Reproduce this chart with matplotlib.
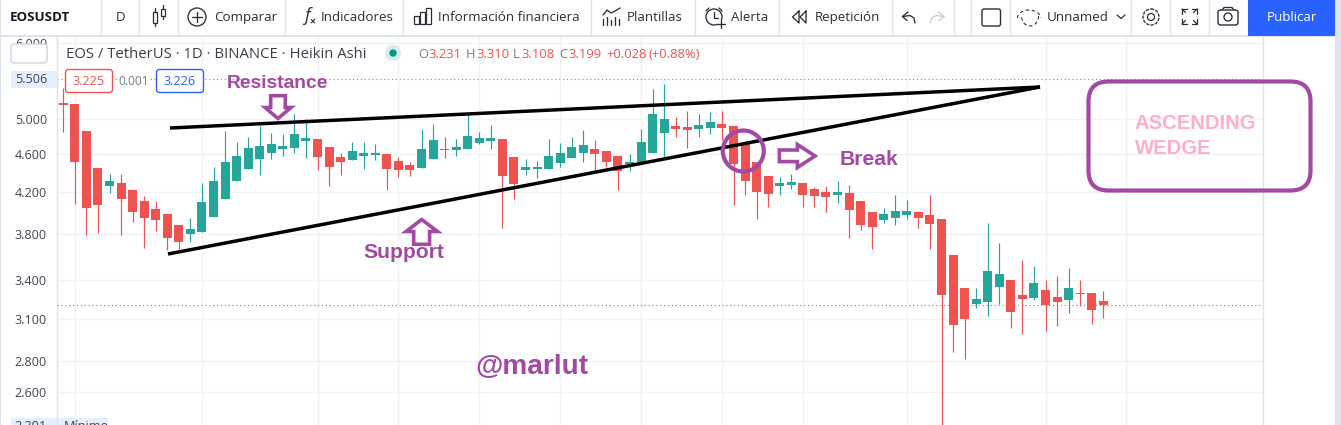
import matplotlib
matplotlib.use('Agg')
import matplotlib.pyplot as plt
from matplotlib.patches import Rectangle, Circle, Polygon, FancyBboxPatch, Arc
from matplotlib.ticker import NullLocator, FixedLocator, FixedFormatter

plt.rcParams['font.family'] = ['Open Sans', 'DejaVu Sans']

# daily Heikin Ashi candles
opens = [5.195,5.183,4.858,4.446,4.259,4.289,4.218,4.108,4.030,3.982,3.879,3.796,3.814,3.954,4.128,4.310,4.436,4.543,4.609,4.653,4.664,4.743,4.766,4.676,4.565,4.532,
         4.576,4.587,4.598,4.521,4.478,4.446,4.543,4.653,4.642,4.653,4.721,4.743,4.766,4.565,4.425,4.436,4.436,4.500,4.554,4.609,4.653,4.631,4.576,4.489,4.511,4.609,
         4.835,4.917,4.905,4.882,4.893,4.940,4.917,4.721,4.511,4.362,4.259,4.269,4.289,4.228,4.198,4.168,4.188,4.108,4.002,3.926,3.944,3.973,4.002,3.973,3.935,3.610,
         3.336,3.210,3.226,3.344,3.400,3.280,3.257,3.320,3.264,3.241,3.296,3.296,3.231]
highs = [5.385,5.183,4.858,4.446,4.383,4.383,4.218,4.158,4.108,3.982,3.879,3.944,4.289,4.457,4.858,4.732,4.789,4.917,4.835,4.824,5.060,5.000,4.766,4.676,4.609,4.732,
         4.732,4.709,4.598,4.565,4.511,4.882,4.940,4.789,4.766,5.060,4.847,4.929,4.766,4.565,4.543,4.521,4.766,4.721,4.789,4.870,4.755,4.631,4.576,4.598,4.882,5.373,
         5.437,5.024,5.097,5.060,5.085,5.097,4.917,4.721,4.511,4.362,4.351,4.383,4.289,4.248,4.259,4.310,4.269,4.108,4.002,4.040,4.168,4.118,4.011,4.168,3.935,3.610,
         3.336,3.336,3.898,3.715,3.400,3.567,3.516,3.400,3.433,3.499,3.400,3.296,3.310]
lows = [4.847,4.079,3.787,3.805,4.188,3.787,3.907,3.671,3.824,3.653,3.645,3.724,3.814,3.954,4.128,4.310,4.436,4.372,4.543,4.576,4.609,4.554,4.425,4.259,4.372,4.532,
        4.436,4.532,4.218,4.351,4.362,4.446,4.543,4.554,4.576,4.653,4.709,4.653,3.851,4.128,4.372,4.341,4.436,4.457,4.554,4.511,4.425,4.457,4.218,4.414,4.511,4.609,
        4.554,4.789,4.664,4.789,4.824,4.755,4.069,4.168,3.935,4.050,4.168,4.228,4.050,4.050,4.002,4.089,3.760,3.833,3.662,3.898,3.879,3.935,3.851,3.662,2.391,2.862,
        2.814,3.180,3.119,3.210,3.031,2.988,3.241,3.009,3.045,3.142,3.195,3.060,3.108]
closes = [5.171,4.511,4.040,4.069,4.310,4.128,4.002,3.944,3.926,3.760,3.724,3.842,4.099,4.310,4.511,4.576,4.664,4.687,4.709,4.687,4.824,4.778,4.565,4.457,4.511,4.631,
          4.609,4.609,4.436,4.425,4.425,4.653,4.755,4.642,4.676,4.800,4.778,4.778,4.362,4.279,4.457,4.457,4.576,4.609,4.676,4.698,4.598,4.511,4.414,4.511,4.732,5.060,
          5.000,4.882,4.870,4.929,4.964,4.893,4.489,4.310,4.198,4.178,4.289,4.300,4.168,4.158,4.148,4.198,4.021,3.879,3.860,3.982,4.011,4.011,3.944,3.888,3.280,3.053,
          3.097,3.249,3.474,3.449,3.149,3.249,3.376,3.202,3.226,3.336,3.288,3.164,3.199]

price_ticks = [6.0, 5.0, 4.6, 4.2, 3.8, 3.4, 3.1, 2.8, 2.6]
price_labels = ['6.000', '5.000', '4.600', '4.200', '3.800', '3.400', '3.100', '2.800', '2.600']
grid_days = [1, 12, 22, 29, 36, 43, 50, 57, 64, 73, 85, 92]
high_mark = 5.506

GREEN = '#26a69a'
RED = '#ef5350'
PURPLE = '#a349a4'
PINK = '#ffaec9'
LINE = '#e0e3eb'
INK = '#2a2e39'
GREY = '#787b86'

fig = plt.figure(figsize=(13.41, 4.25), dpi=100)
ax = fig.add_axes([57/1341, 0, 1206/1341, 389/425])

days = list(range(len(opens)))
colors = [GREEN if c >= o else RED for o, c in zip(opens, closes)]
ax.set_yscale('log')
ax.vlines(days, lows, highs, colors=colors, linewidth=0.85, zorder=3)
ax.bar(days, [abs(c - o) for o, c in zip(opens, closes)],
       bottom=[min(o, c) for o, c in zip(opens, closes)],
       width=0.78, color=colors, linewidth=0, zorder=4)

ax.axhline(high_mark, color='#8a8d96', lw=0.8, ls=(0, (1, 2.5)), zorder=2)
ax.axhline(closes[-1], color=RED, lw=0.8, ls=(0, (1, 2.5)), zorder=5)

ax.set_xlim(-0.545, 103.82)
ax.set_ylim(2.4025, 6.1)
ax.yaxis.set_major_locator(FixedLocator(price_ticks))
ax.yaxis.set_major_formatter(FixedFormatter(price_labels))
ax.yaxis.set_minor_locator(NullLocator())
ax.xaxis.set_major_locator(FixedLocator(grid_days))
ax.tick_params(axis='x', length=0, labelbottom=False)
ax.tick_params(axis='y', length=0, pad=7.2, labelsize=9.1, labelcolor='#434651')
ax.grid(True, color='#f1f2f5', lw=1.0, zorder=0)
ax.set_axisbelow(True)
for side in ('top', 'bottom'):
    ax.spines[side].set_visible(False)
for side in ('left', 'right'):
    ax.spines[side].set_color(LINE)
    ax.spines[side].set_linewidth(1.0)

# everything else sits on a full-figure layer measured in pixels, y downwards
ui = fig.add_axes([0, 0, 1, 1])
ui.set_xlim(0, 1341)
ui.set_ylim(425, 0)
ui.axis('off')


def label(x, y, s, size=9.6, color=INK, ha='left', **kw):
    ui.text(x, y, s, fontsize=size, color=color, ha=ha, va='center', **kw)


def stroke(xs, ys, color=INK, lw=0.95, **kw):
    ui.plot(xs, ys, color=color, lw=lw, solid_capstyle='round', **kw)


def outline(x, y, w, h, color=INK, lw=0.95, r=2, face='none', z=6):
    ui.add_patch(FancyBboxPatch((x + r, y + r), w - 2*r, h - 2*r, boxstyle=f'round,pad={r},rounding_size={r}',
                                fc=face, ec=color, lw=lw, zorder=z))


# toolbar
ui.add_patch(Rectangle((0, 0), 1341, 36, fc='white', ec='none'))
ui.add_patch(Rectangle((0, 35.2), 1335, 1.6, fc=LINE, ec='none'))
for sx in [101, 139, 178, 285, 403, 591, 695, 779, 892, 954, 971, 1010, 1131, 1170, 1209]:
    ui.plot([sx, sx], [0, 36], color=LINE, lw=1.0)
ui.add_patch(Rectangle((1335, 0), 6, 425, fc=LINE, ec='none'))
ui.add_patch(Rectangle((0, 0), 1, 425, fc=LINE, ec='none'))
ui.add_patch(Rectangle((1248, 0), 87, 36, fc='#2962ff', ec='none'))

label(10, 17, 'EOSUSDT', weight='bold', size=9.6, color='#131722')
label(120.5, 17, 'D', ha='center')
label(214, 17, 'Comparar')
label(321, 17, 'Indicadores')
label(438, 17, 'Información financiera')
label(627, 17, 'Plantillas')
label(731, 17, 'Alerta')
label(815, 17, 'Repetición')
label(1047, 17, 'Unnamed')
label(1291.5, 17, 'Publicar', color='white', ha='center')

# candle type icon
ui.add_patch(Rectangle((153.5, 12), 4, 11, fc='none', ec=INK, lw=0.9))
stroke([155.5, 155.5], [8, 12]); stroke([155.5, 155.5], [23, 26])
ui.add_patch(Rectangle((161.5, 9), 4, 7, fc='none', ec=INK, lw=0.9))
stroke([163.5, 163.5], [5, 9]); stroke([163.5, 163.5], [16, 19])
# compare
ui.add_patch(Circle((197, 17), 9, fc='none', ec=INK, lw=0.95))
stroke([197, 197], [12, 22]); stroke([192, 202], [17, 17])
# indicators
label(304, 16, 'f', size=13, style='italic')
label(309, 21.5, '×', size=7.5, weight='bold')
# financials
for bx, bh in zip([414.5, 420.5, 426.5], [8, 12, 16]):
    ui.add_patch(Rectangle((bx, 24 - bh), 5, bh, fc='none', ec=INK, lw=0.9))
# templates
for bx, bh in zip([603.5, 607.5, 611.5, 615.5, 619.5], [6, 8, 5, 8, 6]):
    stroke([bx, bx], [24.5 - bh, 24.5])
stroke([603, 607, 611, 615, 620], [15, 10, 13, 11, 8])
# alert
ui.add_patch(Circle((714, 17), 8, fc='none', ec=INK, lw=0.95))
stroke([714, 714, 718], [12, 18, 18])
stroke([706, 709], [11, 8]); stroke([719, 722], [8, 11])
ui.add_patch(Rectangle((717, 20), 9, 9, fc='white', ec='none', zorder=3))
stroke([721, 721], [20, 28], zorder=4); stroke([717, 725], [24, 24], zorder=4)
# replay
stroke([799, 792.5, 799, 799], [11, 17, 23, 11]); stroke([806, 800, 806, 806], [11, 17, 23, 11])
# undo / redo
stroke([908, 902.5, 907], [12, 16.5, 20.5]); stroke([902.5, 910, 914, 915], [16.5, 15.5, 18, 23])
stroke([938, 944, 939], [12, 16.5, 20.5], color='#c8cad0'); stroke([944, 936, 932, 930], [16.5, 15.5, 18, 23], color='#c8cad0')
# drawings square, cloud layout name
outline(982, 9, 18.5, 17, lw=1.0, r=2)
ui.add_patch(Arc((1029, 18), 23, 16, theta1=180, theta2=360, ec=INK, lw=0.8, ls=(0, (3, 2.5))))
ui.add_patch(Arc((1030, 16), 17, 20, theta1=0, theta2=180, ec=INK, lw=0.8, ls=(0, (3, 2.5))))
stroke([1117, 1121, 1125], [15, 18.5, 15], lw=0.9)
# settings
ui.add_patch(Circle((1151, 17), 3.5, fc='none', ec=INK, lw=0.9))
ui.add_patch(Circle((1151, 17), 8, fc='none', ec=INK, lw=0.95, ls=(0, (2.5, 0.9))))
# fullscreen
for cx, cy, dx, dy in [(1182, 9, 1, 1), (1197, 9, -1, 1), (1182, 24, 1, -1), (1197, 24, -1, -1)]:
    stroke([cx + 5*dx, cx, cx], [cy, cy, cy + 5*dy], lw=0.9)
    stroke([cx, cx + 3.5*dx], [cy, cy + 3.5*dy], lw=0.9)
# snapshot
outline(1218, 10, 20, 15, lw=1.0, r=2.5, face='white')
ui.add_patch(Circle((1228, 17), 4, fc='none', ec=INK, lw=0.95, zorder=7))
stroke([1222, 1224, 1232, 1234], [10, 7.5, 7.5, 10], lw=0.95)

# series legend
label(66, 54, 'EOS / TetherUS · 1D · BINANCE · Heikin Ashi', size=10.7, color='#3b3e48')
ui.add_patch(Circle((393, 53), 8, fc='#d4ecea', ec='none'))
ui.add_patch(Circle((393, 53), 3.7, fc='#089981', ec='none'))
for lx, letter, vx, val in [(418, 'O', 428, '3.231'), (466, 'H', 476, '3.310'), (513, 'L', 521, '3.108'), (559, 'C', 568, '3.199')]:
    label(lx, 54.5, letter, size=9.4, color=GREY)
    label(vx, 54.5, val, size=9.4, color=RED)
label(606, 54.5, '+0.028', size=9.4, color=RED)
label(649, 54.5, '(+0.88%)', size=9.4, color=RED)

# bid / ask chips
outline(65.5, 69.5, 47, 23, color=RED, lw=1.0, r=3, face='white')
label(89, 81.5, '3.225', color=RED, ha='center', size=9.1, zorder=7)
ui.add_patch(Rectangle((120, 74), 28, 14, fc='white', ec='none', zorder=6))
label(134, 81.5, '0.001', color=GREY, ha='center', size=8.6, zorder=7)
outline(156.5, 69.5, 47, 23, color='#2962ff', lw=1.0, r=3, face='white')
label(180, 81.5, '3.226', color='#2962ff', ha='center', size=9.1, zorder=7)

# price scale extras
outline(11, 44, 36, 19, color='#d1d4dc', lw=1.0, r=3, face='white')
label(29, 53, 'USDT', ha='center', size=8.4)
ui.add_patch(Rectangle((11, 71), 46, 17, fc='#e3effd', ec='none'))
label(47, 79.5, '5.506', ha='right', size=9.1, color='#434651')
ui.add_patch(Rectangle((11, 418), 46, 8, fc='#e3effd', ec='none'))
ui.add_patch(Rectangle((58, 418), 50, 8, fc='#e3effd', ec='none'))
label(47, 426.5, '2.391', ha='right', size=9.1, color='#434651', clip_on=True)
label(64, 426.5, 'Mínimo', size=9.1, color='#434651', clip_on=True)

# wedge lines
ui.plot([170, 1040], [128, 87], color='black', lw=2.5, solid_capstyle='butt', zorder=8)
ui.plot([168, 1040], [254, 87], color='black', lw=2.5, solid_capstyle='butt', zorder=8)

# hollow arrows
down = [(270.7, 95.7), (285.3, 95.7), (285.3, 107.5), (291, 107.5), (278, 118.5), (265, 107.5), (270.7, 107.5)]
up = [(413.7, 244.3), (429.6, 244.3), (429.6, 231.5), (437.5, 231.5), (421.7, 219.5), (406, 231.5), (413.7, 231.5)]
right = [(779.4, 150), (797.4, 150), (797.4, 144.5), (815, 156), (797.4, 167.5), (797.4, 161.6), (779.4, 161.6)]
for pts in (down, up, right):
    ui.add_patch(Polygon(pts, closed=True, fc='white', ec=PURPLE, lw=2.6, joinstyle='miter', zorder=9))

ui.add_patch(Circle((743.3, 151), 20.5, fc='none', ec=PURPLE, lw=3.0, zorder=10))

# note box
outline(1088.5, 81.5, 222, 109, color=PURPLE, lw=3.0, r=20, z=9)

note = dict(family=['Liberation Sans'], weight='bold', zorder=11)
label(277, 83, 'Resistance', size=13.9, color=PURPLE, ha='center', **note)
label(403.5, 253, 'Support', size=15.2, color=PURPLE, ha='center', **note)
label(869.5, 159.5, 'Break', size=15.2, color=PURPLE, ha='center', **note)
label(531.5, 366.5, '@marlut', size=20.2, color=PURPLE, ha='center', **note)
label(1135, 123, 'ASCENDING', size=14.6, color=PINK, **note)
label(1135, 148, 'WEDGE', size=14.6, color=PINK, **note)

fig.savefig('out.png', dpi=100)
